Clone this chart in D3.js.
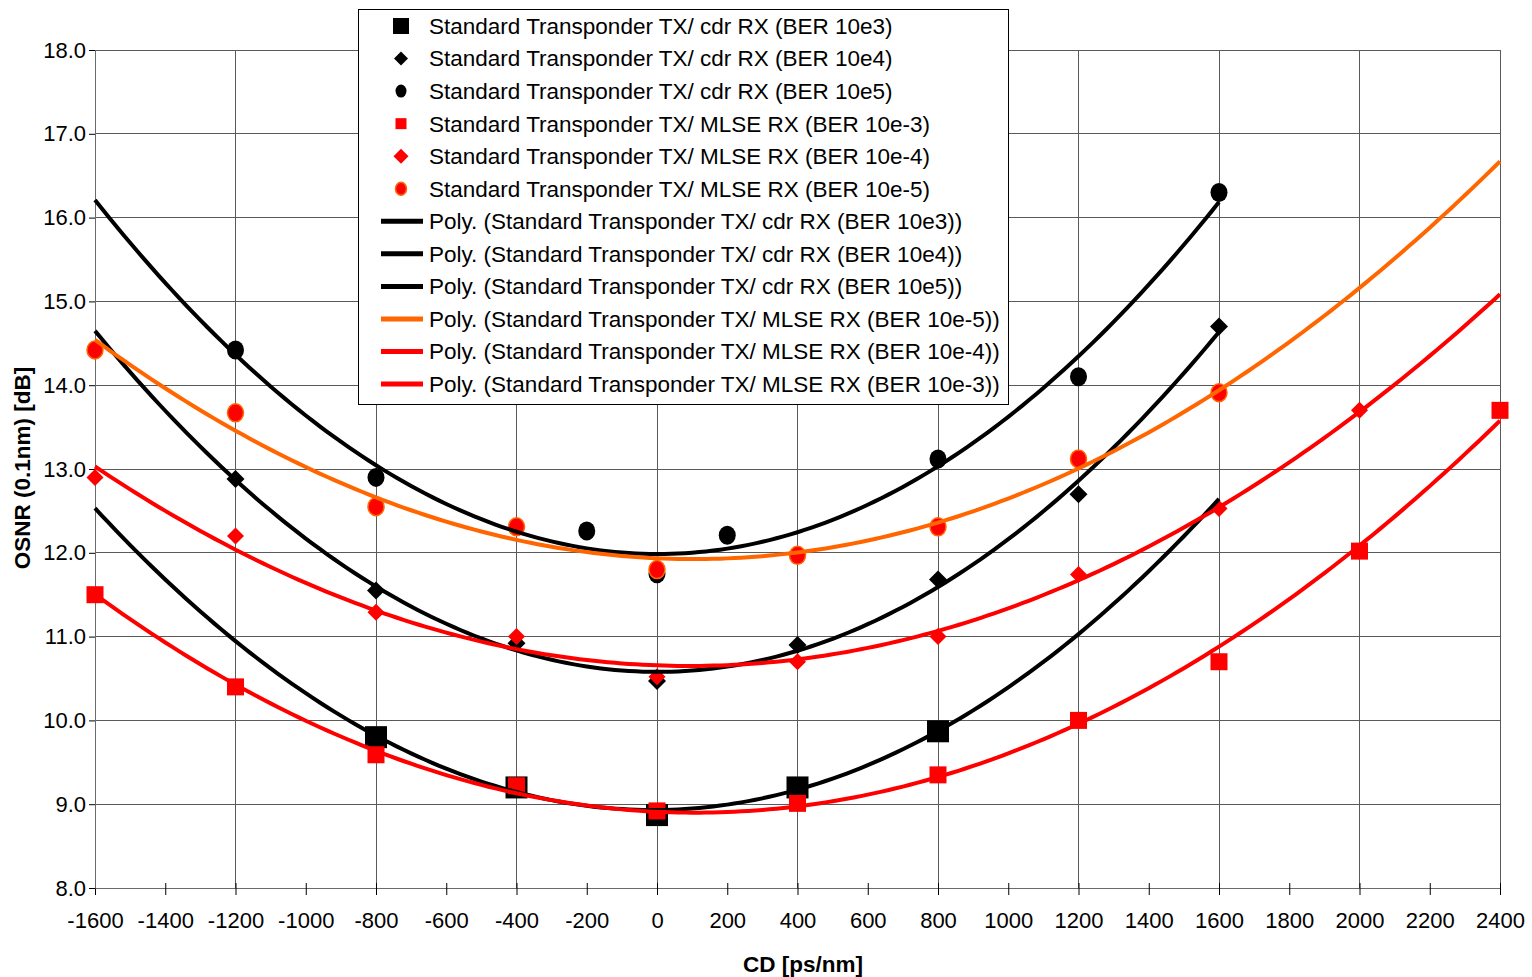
<!DOCTYPE html>
<html>
<head>
<meta charset="utf-8">
<script src="https://cdn.jsdelivr.net/npm/d3@7"></script>
<style>
  body { margin: 0; background: #fff; }
  text { font-family: "Liberation Sans", Arial, sans-serif; }
</style>
</head>
<body>
<div id="chart-container"></div>
<script>
// measured points (CD in ps/nm, OSNR in dB)
const cdr3X = [-800, -400, 0, 400, 800];
const cdr3Y = [9.8, 9.2, 8.87, 9.2, 9.87];
const cdr4X = [-1200, -800, -400, 0, 400, 800, 1200, 1600];
const cdr4Y = [12.88, 11.55, 10.92, 10.47, 10.9, 11.68, 12.7, 14.7];
const cdr5X = [-1200, -800, -200, 0, 200, 800, 1200, 1600];
const cdr5Y = [14.42, 12.9, 12.26, 11.75, 12.21, 13.12, 14.1, 16.3];
const mlse3X = [-1600, -1200, -800, -400, 0, 400, 800, 1200, 1600, 2000, 2400];
const mlse3Y = [11.5, 10.4, 9.59, 9.22, 8.92, 9.01, 9.35, 10.0, 10.7, 12.02, 13.7];
const mlse4X = [-1600, -1200, -800, -400, 0, 400, 800, 1200, 1600, 2000];
const mlse4Y = [12.9, 12.2, 11.29, 11.0, 10.52, 10.7, 11.0, 11.74, 12.53, 13.7];
const mlse5X = [-1600, -1200, -800, -400, 0, 400, 800, 1200, 1600];
const mlse5Y = [14.42, 13.67, 12.55, 12.31, 11.8, 11.97, 12.31, 13.12, 13.91];

// trendline extents (forecast range of each polynomial)
const cdrRange = [-1600, 1600];
const mlseRange = [-1600, 2400];

const xTicks = d3.range(-1600, 2401, 200);
const yTicks = d3.range(8, 18.01, 1);

const margin = { top: 50, right: 32, bottom: 89, left: 95 };
const width = 1532 - margin.left - margin.right;
const height = 977 - margin.top - margin.bottom;

const x = d3.scaleLinear().domain([-1600, 2400]).range([0, width]);
const y = d3.scaleLinear().domain([8, 18]).range([height, 0]);

const svg = d3.select("#chart-container")
    .append("svg")
    .attr("width", 1532)
    .attr("height", 977);

const g = svg.append("g")
    .attr("transform", `translate(${margin.left},${margin.top})`);

// grid
g.append("g")
    .selectAll("line")
    .data(yTicks)
    .join("line")
    .attr("x1", 0).attr("x2", width)
    .attr("y1", d => y(d)).attr("y2", d => y(d))
    .attr("stroke", "#5a5a5a")
    .attr("stroke-width", 1)
    .attr("shape-rendering", "crispEdges");

g.append("g")
    .selectAll("line")
    .data(d3.range(-1200, 2401, 400))
    .join("line")
    .attr("x1", d => x(d)).attr("x2", d => x(d))
    .attr("y1", 0).attr("y2", height)
    .attr("stroke", "#5a5a5a")
    .attr("stroke-width", 1)
    .attr("shape-rendering", "crispEdges");

// axes
const xAxis = g.append("g")
    .attr("transform", `translate(0,${height})`)
    .call(d3.axisBottom(x).tickValues(xTicks).tickSize(7).tickPadding(17)
        .tickFormat(d => String(d)).tickSizeOuter(0));
g.append("g")
    .attr("transform", `translate(0,${height})`)
    .call(d3.axisBottom(x).tickValues(xTicks).tickSize(-5).tickFormat("").tickSizeOuter(0))
    .select(".domain").remove();

const yAxis = g.append("g")
    .call(d3.axisLeft(y).tickValues(yTicks).tickSize(6).tickPadding(3)
        .tickFormat(d3.format(".1f")).tickSizeOuter(0));

[xAxis, yAxis].forEach(a => {
  a.selectAll("text").attr("font-size", 22).attr("fill", "#000")
      .attr("font-family", "'Liberation Sans', Arial, sans-serif");
  a.selectAll("line").attr("stroke", "#000");
  a.select(".domain").attr("stroke", "#6b6b6b");
});

// axis titles
svg.append("text")
    .attr("x", 803)
    .attr("y", 972)
    .attr("text-anchor", "middle")
    .attr("font-size", 22.5)
    .attr("font-weight", "bold")
    .text("CD [ps/nm]");

svg.append("text")
    .attr("transform", `translate(30,468) rotate(-90)`)
    .attr("text-anchor", "middle")
    .attr("font-size", 22.5)
    .attr("font-weight", "bold")
    .text("OSNR (0.1nm) [dB]");

// least squares fit of order 2 (like an Excel "Poly." trendline)
function polyFit(xs, ys) {
  const s = xs.map(v => v / 1000);
  const S = k => d3.sum(s, v => Math.pow(v, k));
  const T = k => d3.sum(s, (v, i) => Math.pow(v, k) * ys[i]);
  const A = [[S(0), S(1), S(2), T(0)], [S(1), S(2), S(3), T(1)], [S(2), S(3), S(4), T(2)]];
  for (let i = 0; i < 3; i++) {
    for (let j = i + 1; j < 3; j++) {
      const f = A[j][i] / A[i][i];
      for (let k = i; k < 4; k++) A[j][k] -= f * A[i][k];
    }
  }
  const c = [0, 0, 0];
  for (let i = 2; i >= 0; i--) {
    let v = A[i][3];
    for (let k = i + 1; k < 3; k++) v -= A[i][k] * c[k];
    c[i] = v / A[i][i];
  }
  return xv => c[0] + c[1] * xv / 1000 + c[2] * Math.pow(xv / 1000, 2);
}

const series = [
  { name: "Standard Transponder TX/ cdr RX (BER 10e3)", xs: cdr3X, ys: cdr3Y, shape: "square", size: 22, fill: "#000", stroke: "none", lsize: 16 },
  { name: "Standard Transponder TX/ cdr RX (BER 10e4)", xs: cdr4X, ys: cdr4Y, shape: "diamond", size: 18, fill: "#000", stroke: "none", lsize: 14 },
  { name: "Standard Transponder TX/ cdr RX (BER 10e5)", xs: cdr5X, ys: cdr5Y, shape: "circle", size: 18, fill: "#000", stroke: "none", lsize: 12 },
  { name: "Standard Transponder TX/ MLSE RX (BER 10e-3)", xs: mlse3X, ys: mlse3Y, shape: "square", size: 17, fill: "#ff0000", stroke: "none", lsize: 11 },
  { name: "Standard Transponder TX/ MLSE RX (BER 10e-4)", xs: mlse4X, ys: mlse4Y, shape: "diamond", size: 17, fill: "#ff0000", stroke: "none", lsize: 15 },
  { name: "Standard Transponder TX/ MLSE RX (BER 10e-5)", xs: mlse5X, ys: mlse5Y, shape: "circle", size: 17, fill: "#ff0000", stroke: "#ff6600", lsize: 12 }
];

const trends = [
  { name: "Poly. (Standard Transponder TX/ cdr RX (BER 10e3))", src: 0, range: cdrRange, color: "#000" },
  { name: "Poly. (Standard Transponder TX/ cdr RX (BER 10e4))", src: 1, range: cdrRange, color: "#000" },
  { name: "Poly. (Standard Transponder TX/ cdr RX (BER 10e5))", src: 2, range: cdrRange, color: "#000" },
  { name: "Poly. (Standard Transponder TX/ MLSE RX (BER 10e-5))", src: 5, range: mlseRange, color: "#ff6600" },
  { name: "Poly. (Standard Transponder TX/ MLSE RX (BER 10e-4))", src: 4, range: mlseRange, color: "#ff0000" },
  { name: "Poly. (Standard Transponder TX/ MLSE RX (BER 10e-3))", src: 3, range: mlseRange, color: "#ff0000" }
];

function drawMarker(sel, s, size) {
  if (s.shape === "circle") {
    sel.append("ellipse")
        .attr("rx", size / 2 - 0.5).attr("ry", size / 2 + 0.5)
        .attr("fill", s.fill)
        .attr("stroke", s.stroke)
        .attr("stroke-width", s.stroke === "none" ? 0 : 1.5);
  } else if (s.shape === "square") {
    sel.append("path")
        .attr("d", d3.symbol(d3.symbolSquare, size * size)())
        .attr("fill", s.fill);
  } else {
    sel.append("path")
        .attr("d", d3.symbol(d3.symbolSquare, size * size / 2)())
        .attr("transform", "rotate(45)")
        .attr("fill", s.fill);
  }
}

// markers
series.forEach(s => {
  g.append("g")
      .selectAll("g")
      .data(s.xs.map((v, i) => ({ cd: v, osnr: s.ys[i] })))
      .join("g")
      .attr("transform", d => `translate(${x(d.cd)},${y(d.osnr)})`)
      .each(function () { drawMarker(d3.select(this), s, s.size); });
});

// trend lines
const line = d3.line()
    .x(d => x(d[0]))
    .y(d => y(d[1]));

trends.forEach(t => {
  const s = series[t.src];
  const f = polyFit(s.xs, s.ys);
  const pts = d3.range(t.range[0], t.range[1] + 1, 20).map(v => [v, f(v)]);
  g.append("path")
      .datum(pts)
      .attr("fill", "none")
      .attr("stroke", t.color)
      .attr("stroke-width", 4)
      .attr("d", line);
});

// legend
const legend = svg.append("g");
legend.append("rect")
    .attr("x", 358.5).attr("y", 9.5)
    .attr("width", 650).attr("height", 395)
    .attr("fill", "#fff")
    .attr("stroke", "#000")
    .attr("stroke-width", 1);

const rowY = i => 26 + i * 32.55;

series.forEach((s, i) => {
  const row = legend.append("g").attr("transform", `translate(401,${rowY(i)})`);
  drawMarker(row, s, s.lsize);
  legend.append("text")
      .attr("x", 429).attr("y", rowY(i))
      .attr("dy", "0.35em")
      .attr("font-size", 22.5)
      .text(s.name);
});

trends.forEach((t, j) => {
  const i = j + 6;
  legend.append("line")
      .attr("x1", 381).attr("x2", 423)
      .attr("y1", rowY(i)).attr("y2", rowY(i))
      .attr("stroke", t.color)
      .attr("stroke-width", 5);
  legend.append("text")
      .attr("x", 429).attr("y", rowY(i))
      .attr("dy", "0.35em")
      .attr("font-size", 22.5)
      .text(t.name);
});
</script>
</body>
</html>
